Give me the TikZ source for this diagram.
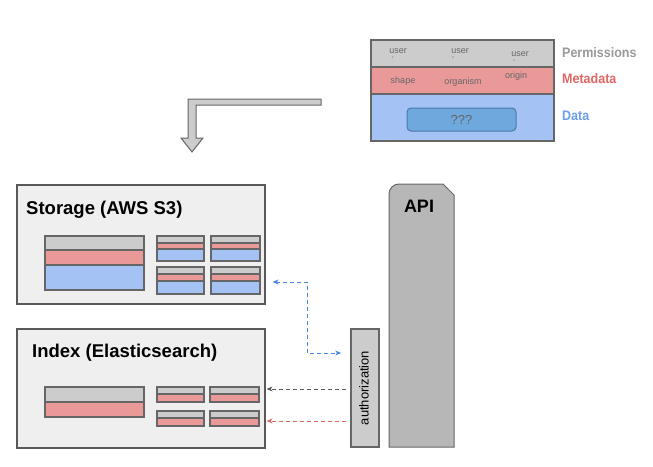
\documentclass[tikz,border=0pt]{standalone}
\usepackage{fontspec}
\setmainfont{Liberation Sans}
\usetikzlibrary{calc,arrows.meta}
\definecolor{cgray}{HTML}{CCCCCC}
\definecolor{cred}{HTML}{EA9999}
\definecolor{cblue}{HTML}{A4C2F4}
\definecolor{cdblue}{HTML}{6FA8DC}
\definecolor{cdbline}{HTML}{5078AA}
\definecolor{cbg}{HTML}{EFEFEF}
\definecolor{cline}{HTML}{666666}
\definecolor{cframe}{HTML}{595959}
\definecolor{capi}{HTML}{B7B7B7}
\definecolor{lgray}{HTML}{999999}
\definecolor{lred}{HTML}{E06666}
\definecolor{lblue}{HTML}{6D9EEB}
\definecolor{ablue}{HTML}{4A86E8}
\newcommand{\blkthree}[6]{%
  \draw[segline,fill=cgray] (#1,#3) rectangle (#2,#4);
  \draw[segline,fill=cred] (#1,#4) rectangle (#2,#5);
  \draw[segline,fill=cblue] (#1,#5) rectangle (#2,#6);}
\newcommand{\blktwo}[5]{%
  \draw[segline,fill=cgray] (#1,#3) rectangle (#2,#4);
  \draw[segline,fill=cred] (#1,#4) rectangle (#2,#5);}
\tikzset{
  segline/.style={draw=cline,line width=1.8pt},
  container/.style={draw=cframe,fill=cbg,line width=1.2pt,rectangle,inner sep=0pt},
  smalltxt/.style={text=cline,font=\fontsize{9}{10}\selectfont,inner sep=0pt},
  tinytxt/.style={text=cline,font=\fontsize{3}{3}\selectfont,inner sep=0pt},
  sidelabel/.style={font=\fontsize{12.5}{14}\selectfont\bfseries,anchor=west,inner sep=0pt,yscale=1.1},
  title/.style={font=\fontsize{18.5}{21}\selectfont\bfseries,anchor=west,inner sep=0pt},
  tipshape/.style={Stealth[length=6pt,width=5pt]},
  dasharrow/.style={dash pattern=on 4pt off 3pt,line width=0.8pt,-{Stealth[length=6pt,width=5pt]}},
}
\begin{document}
\begin{tikzpicture}[x=1pt,y=-1pt]
\useasboundingbox (0,0) rectangle (653,466);
% top record
\draw[segline,fill=cgray] (371,40) rectangle (554,67);
\draw[segline,fill=cred] (371,67) rectangle (554,94);
\draw[segline,fill=cblue] (371,94) rectangle (554,141);
\draw[draw=cdbline,fill=cdblue,line width=1pt,rounded corners=4pt] (407,108) rectangle (516,131);
\node[text=cline,font=\fontsize{13}{14}\selectfont] (qqq) at (461.5,119.5) {???};
\node[smalltxt] (u1) at (398,51) {user};
\node[smalltxt] (u2) at (460,51) {user};
\node[smalltxt] (u3) at (520,54) {user};
\node[tinytxt] (u1s) at (393,57.5) {1};
\node[tinytxt] (u2s) at (453,57.5) {2};
\node[tinytxt] (u3s) at (514,61) {n};
\node[smalltxt] (m1) at (403,81) {shape};
\node[smalltxt] (m2) at (463,82) {organism};
\node[smalltxt] (m3) at (516,76) {origin};
\node[sidelabel,text=lgray] (perm) at (562,53) {Permissions};
\node[sidelabel,text=lred] (meta) at (562,79) {Metadata};
\node[sidelabel,text=lblue] (data) at (562,116) {Data};
% bent arrow
\draw[draw=cline,fill=cgray,line width=1pt] (321,99) -- (188,99) -- (188,138) -- (181,138) -- (192,152) -- (203,138) -- (196,138) -- (196,105) -- (321,105) -- cycle;
% storage
\node[container,minimum width=248pt,minimum height=119pt] (storage) at (141,244.5) {};
\node[title] (stitle) at (26,210) {Storage (AWS S3)};
\blkthree{45}{144}{236}{250}{265}{290}
\blkthree{157}{204}{236}{243}{249}{261}
\blkthree{211}{260}{236}{243}{249}{261}
\blkthree{157}{204}{267}{274}{281}{294}
\blkthree{211}{260}{267}{274}{281}{294}
% index
\node[container,minimum width=248pt,minimum height=119pt] (index) at (141,388.5) {};
\node[title] (ititle) at (32,353) {Index (Elasticsearch)};
\blktwo{45}{144}{387}{402}{417}
\blktwo{157}{204}{387}{394}{402}
\blktwo{210}{259}{387}{394}{402}
\blktwo{157}{204}{411}{418}{426}
\blktwo{210}{259}{411}{418}{426}
% API
\draw[draw=cline,fill=capi,line width=1pt] (389,447) [rounded corners=10pt] -- (389,184) [sharp corners] -- (443,184) -- (454,195) -- (454,447) -- cycle;
\node[font=\fontsize{18}{20}\selectfont\bfseries,inner sep=0pt] (api) at (419,206) {API};
% authorization
\node[draw=cline,fill=cgray,line width=1.8pt,minimum width=28pt,minimum height=118pt,inner sep=0pt] (auth) at (365,388) {};
\node[rotate=90,font=\fontsize{13}{14}\selectfont,inner sep=0pt] (authtxt) at (364,388) {authorization};
% connectors
\draw[dasharrow,draw=ablue,{Stealth[length=6pt,width=5pt]}-{Stealth[length=6pt,width=5pt]}] ($(storage.east)+(7,37.5)$) -- ++(35,0) |- ($(auth.west)+(-9,-35)$);
\draw[dasharrow,draw=cframe] ($(auth.west)+(-4,1)$) -- ($(index.east)+(1,0.5)$);
\draw[dasharrow,draw=lred] ($(auth.west)+(-4,33)$) -- ($(index.east)+(1,32.5)$);
\end{tikzpicture}
\end{document}
